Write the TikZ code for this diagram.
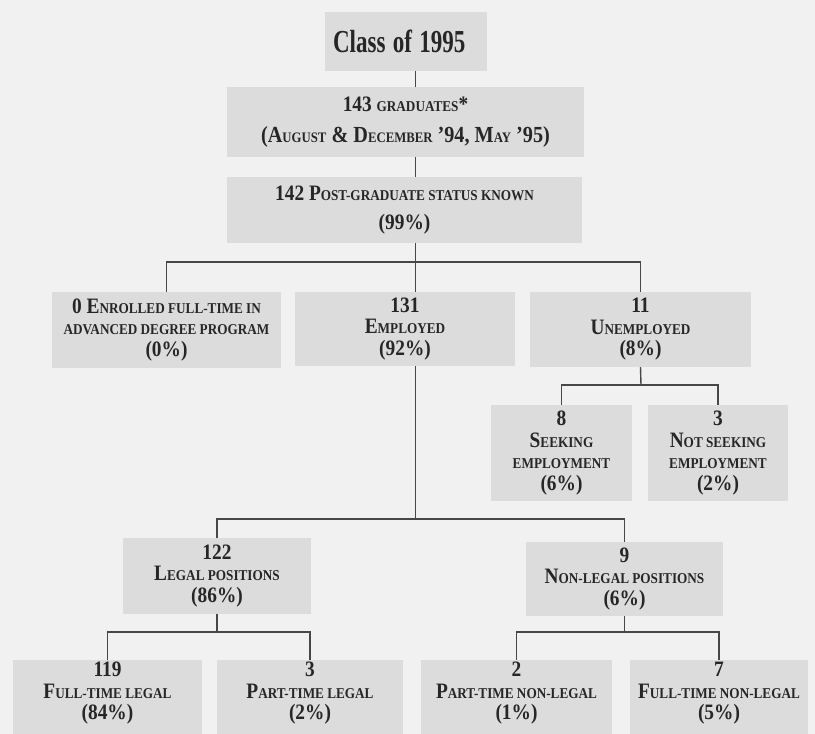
\documentclass[tikz,border=0pt]{standalone}
\usepackage{fontspec}
\setmainfont{Liberation Serif}[FakeStretch=0.88]
\newfontfamily\titlefont{Liberation Serif}[FakeStretch=0.72]
\definecolor{paper}{HTML}{F1F1F1}
\definecolor{boxgray}{HTML}{DCDCDC}
\definecolor{ink}{HTML}{262626}
\newcommand{\smcap}[2][15]{{\fontsize{#1}{#1}\selectfont\MakeUppercase{#2}}}
\tikzset{box/.style={fill=boxgray, text=ink, font=\bfseries\fontsize{22}{21.5}\selectfont, align=center, inner sep=0pt},
%bottom boxes run off the page
lastrow/.style={box, minimum height=76, execute at end node={\rule[-14pt]{0pt}{0pt}}},
%lines of the tree
link/.style={draw=ink!85, line width=1.4pt}}

\begin{document}
\begin{tikzpicture}[x=1pt,y=-1pt]

\fill [paper] (0,0) rectangle (815,734);
\clip (0,0) rectangle (815,734);

% top column
\node[box, text width=146, align=left, inner xsep=8pt, minimum height=59] (class) at (406,41) {\titlefont\fontsize{32}{32}\selectfont Class of 1995};
\node[box, minimum width=357, minimum height=70] (grads) at (405.5,122) {143 \smcap{graduates}*\\[9pt]{\fontsize{23}{23}\selectfont(A\smcap[14.5]{ugust} \& D\smcap[14.5]{ecember} ’94, M\smcap[14.5]{ay} ’95)}};
\node[box, minimum width=355, minimum height=66] (known) at (404.5,210) {142 P\smcap{ost-graduate status known}\\[8pt](99\%)};
\coordinate (spine) at (415.5,0);
\draw[link] (class.south -| spine) -- (grads.north -| spine);
\draw[link] (grads.south -| spine) -- (known.north -| spine);

% first level
\node[box, minimum width=229, minimum height=76] (enrolled) at (166.5,330) {0 E\smcap{nrolled full-time in}\\\smcap{advanced degree program}\\(0\%)};
\node[box, minimum width=220, minimum height=74] (employed) at (405,329) {131\\E\smcap{mployed}\\(92\%)};
\node[box, minimum width=221, minimum height=75] (unemployed) at (640.5,329.5) {11\\U\smcap{nemployed}\\(8\%)};
\coordinate (bus1) at (415.5,262);
\draw[link] (known.south -| spine) -- (bus1);
\draw[link] (enrolled.north) |- (bus1) -| (unemployed.north);
\draw[link] (bus1) -- (employed.north -| spine);

% Draw unemployed
\node[box, minimum width=141, minimum height=96] (seeking) at (561.5,453) {8\\S\smcap{eeking}\\\smcap{employment}\\(6\%)};
\node[box, minimum width=140, minimum height=96] (notseeking) at (718,453) {3\\N\smcap{ot seeking}\\\smcap{employment}\\(2\%)};
\coordinate (bus2) at (641,385);
\draw[link] (unemployed.south) -- (bus2);
\draw[link] (seeking.north) |- (bus2) -| (notseeking.north);

% Draw employed
\node[box, minimum width=188, minimum height=76] (legal) at (217,576) {122\\L\smcap{egal positions}\\(86\%)};
\node[box, minimum width=197, minimum height=74] (nonlegal) at (624.5,579) {9\\N\smcap{on-legal positions}\\(6\%)};
\coordinate (bus3) at (415.5,519);
\draw[link] (employed.south -| spine) -- (bus3);
\draw[link] (legal.north) |- (bus3) -| (nonlegal.north);

% bottom row
\node[lastrow, minimum width=189] (ftlegal) at (107.5,698) {119\\F\smcap{ull-time legal}\\(84\%)};
\node[lastrow, minimum width=186] (ptlegal) at (310,698) {3\\P\smcap{art-time legal}\\(2\%)};
\node[lastrow, minimum width=191] (ptnonlegal) at (516.5,698) {2\\P\smcap{art-time non-legal}\\(1\%)};
\node[lastrow, minimum width=178] (ftnonlegal) at (719,698) {7\\F\smcap{ull-time non-legal}\\(5\%)};
\coordinate (bus4) at (217,632);
\coordinate (bus5) at (624.5,632);
\draw[link] (legal.south) -- (bus4);
\draw[link] (ftlegal.north) |- (bus4) -| (ptlegal.north);
\draw[link] (nonlegal.south) -- (bus5);
\draw[link] (ptnonlegal.north) |- (bus5) -| (ftnonlegal.north);

\end{tikzpicture}
\end{document}
